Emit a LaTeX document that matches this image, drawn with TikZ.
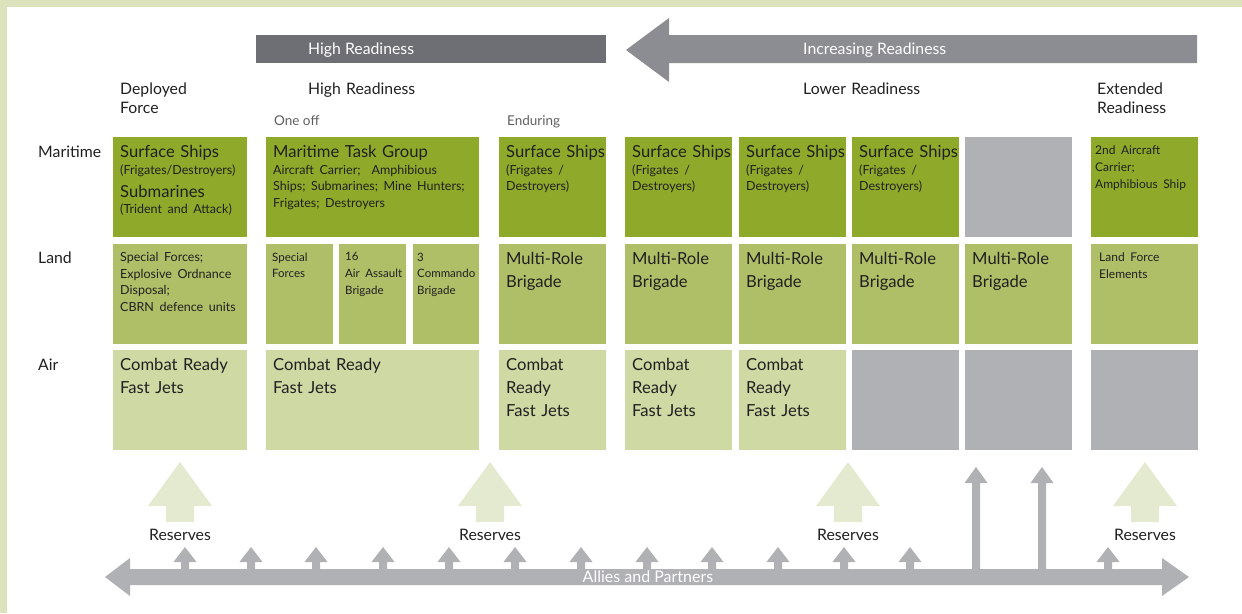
\documentclass[tikz,border=0pt]{standalone}
\usepackage{fontspec}
\setmainfont{Lato}
\usepackage{tikz}
\definecolor{myframe}{RGB}{220,227,188}
\definecolor{mymaritime}{RGB}{143,170,42}
\definecolor{myland}{RGB}{175,191,103}
\definecolor{myair}{RGB}{206,217,164}
\definecolor{mygray}{RGB}{176,177,181}
\definecolor{mybar}{RGB}{110,111,116}
\definecolor{myarrow}{RGB}{140,141,146}
\definecolor{myreserve}{RGB}{228,234,207}
\definecolor{mytext}{RGB}{32,32,32}
\definecolor{mylight}{RGB}{95,95,95}
\newcommand{\bigtxt}{\fontsize{16.6}{22.8}\selectfont}
\newcommand{\subtxt}{\fontsize{12.5}{16.5}\selectfont}
\newcommand{\tinytxt}{\fontsize{11.5}{16.8}\selectfont}
\newcommand{\midtxt}{\fontsize{12}{17}\selectfont}
\newcommand{\headtxt}{\fontsize{15.8}{18.5}\selectfont}
\frenchspacing

\begin{document}
\begin{tikzpicture}[
  x=1pt, y=-1pt,
  mycell/.style={
    rectangle,
    inner sep=0pt,
    anchor=north west,
    minimum height=100pt,
    minimum width=107pt
    },
  mytxt/.style={
    anchor=north west,
    inner xsep=7pt,
    inner ysep=8.5pt,
    text width=200pt,
    align=left,
    font=\bigtxt,
    text=mytext
    },
  myhead/.style={inner sep=0pt, font=\headtxt, text=mytext, text width=120pt, align=left},
  mysub/.style={inner sep=0pt, font=\fontsize{13.5}{16}\selectfont, text=mylight}
]
\useasboundingbox (0,0) rectangle (1242,613);
\fill[myframe] (0,0) rectangle (1242,7);
\fill[myframe] (0,0) rectangle (7,613);

% top bars
\fill[mybar] (256,35) rectangle (606,63);
\fill[myarrow] (626,50) -- (669,18) -- (669,35) -- (1197,35) -- (1197,63) -- (669,63) -- (669,82) -- cycle;
\node[anchor=base west, inner sep=0pt, font=\headtxt, text=white] (hrbar) at (308,54.5) {High Readiness};
\node[anchor=base west, inner sep=0pt, font=\headtxt, text=white] (incbar) at (803,54.5) {Increasing Readiness};

% column headings
\node[myhead, anchor=north west] (deployed) at (120,83) {Deployed\par Force};
\node[myhead, anchor=north west] (highr) at (308,83) {High Readiness};
\node[myhead, anchor=north west] (lowr) at (803,83) {Lower Readiness};
\node[myhead, anchor=north west] (extr) at (1097,83) {Extended\par Readiness};
\node[mysub, anchor=north west] (oneoff) at (274,115) {One off};
\node[mysub, anchor=north west] (enduring) at (507,115) {Enduring};

% row headings
\node[myhead, anchor=base west, text width=] (maritime) at (38,157.5) {Maritime};
\node[myhead, anchor=base west, text width=] (land) at (38,263.5) {Land};
\node[myhead, anchor=base west, text width=] (air) at (38,370) {Air};

% maritime row
\node[mycell, fill=mymaritime, minimum width=134pt] (m1) at (113,137) {};
\node[mytxt] (m1t) at (m1.north west) {Surface Ships\par{\subtxt (Frigates/Destroyers)\par}Submarines\par{\subtxt (Trident and Attack)\par}};
\node[mycell, fill=mymaritime, minimum width=213pt] (m2) at (266,137) {};
\node[mytxt] (m2t) at (m2.north west) {Maritime Task Group\par{\subtxt Aircraft Carrier;\ \ Amphibious\par Ships; Submarines; Mine Hunters;\par Frigates; Destroyers\par}};
\node[mycell, fill=mymaritime] (m3) at (499,137) {};
\node[mytxt] (m3t) at (m3.north west) {Surface Ships\par{\subtxt (Frigates /\par Destroyers)\par}};
\node[mycell, fill=mymaritime] (m4) at (625,137) {};
\node[mytxt] (m4t) at (m4.north west) {Surface Ships\par{\subtxt (Frigates /\par Destroyers)\par}};
\node[mycell, fill=mymaritime] (m5) at (739,137) {};
\node[mytxt] (m5t) at (m5.north west) {Surface Ships\par{\subtxt (Frigates /\par Destroyers)\par}};
\node[mycell, fill=mymaritime] (m6) at (852,137) {};
\node[mytxt] (m6t) at (m6.north west) {Surface Ships\par{\subtxt (Frigates /\par Destroyers)\par}};
\node[mycell, fill=mygray] (m7) at (965,137) {};
\node[mycell, fill=mymaritime] (m8) at (1091,137) {};
\node[mytxt, inner xsep=4pt] (m8t) at (m8.north west) {{\midtxt 2nd Aircraft\par Carrier;\par Amphibious Ship\par}};

% land row
\node[mycell, fill=myland, minimum width=134pt] (l1) at (113,244) {};
\node[mytxt] (l1t) at (l1.north west) {{\subtxt Special Forces;\par Explosive Ordnance\par Disposal;\par CBRN defence units\par}};
\node[mycell, fill=myland, minimum width=67pt] (l2a) at (266,244) {};
\node[mytxt, inner xsep=6pt] (l2at) at (l2a.north west) {{\tinytxt Special\par Forces\par}};
\node[mycell, fill=myland, minimum width=67pt] (l2b) at (339,244) {};
\node[mytxt, inner xsep=6pt] (l2bt) at (l2b.north west) {{\tinytxt 16\par Air Assault\par Brigade\par}};
\node[mycell, fill=myland, minimum width=66pt] (l2c) at (413,244) {};
\node[mytxt, inner xsep=4pt] (l2ct) at (l2c.north west) {{\tinytxt 3\par Commando\par Brigade\par}};
\node[mycell, fill=myland] (l3) at (499,244) {};
\node[mytxt] (l3t) at (l3.north west) {Multi-Role\par Brigade};
\node[mycell, fill=myland] (l4) at (625,244) {};
\node[mytxt] (l4t) at (l4.north west) {Multi-Role\par Brigade};
\node[mycell, fill=myland] (l5) at (739,244) {};
\node[mytxt] (l5t) at (l5.north west) {Multi-Role\par Brigade};
\node[mycell, fill=myland] (l6) at (852,244) {};
\node[mytxt] (l6t) at (l6.north west) {Multi-Role\par Brigade};
\node[mycell, fill=myland] (l7) at (965,244) {};
\node[mytxt] (l7t) at (l7.north west) {Multi-Role\par Brigade};
\node[mycell, fill=myland] (l8) at (1091,244) {};
\node[mytxt, inner xsep=8pt] (l8t) at (l8.north west) {{\midtxt Land Force\par Elements\par}};

% air row
\node[mycell, fill=myair, minimum width=134pt] (a1) at (113,350) {};
\node[mytxt] (a1t) at (a1.north west) {Combat Ready\par Fast Jets};
\node[mycell, fill=myair, minimum width=213pt] (a2) at (266,350) {};
\node[mytxt] (a2t) at (a2.north west) {Combat Ready\par Fast Jets};
\node[mycell, fill=myair] (a3) at (499,350) {};
\node[mytxt] (a3t) at (a3.north west) {Combat\par Ready\par Fast Jets};
\node[mycell, fill=myair] (a4) at (625,350) {};
\node[mytxt] (a4t) at (a4.north west) {Combat\par Ready\par Fast Jets};
\node[mycell, fill=myair] (a5) at (739,350) {};
\node[mytxt] (a5t) at (a5.north west) {Combat\par Ready\par Fast Jets};
\node[mycell, fill=mygray] (a6) at (852,350) {};
\node[mycell, fill=mygray] (a7) at (965,350) {};
\node[mycell, fill=mygray] (a8) at (1091,350) {};

% reserves
\foreach \cx in {180,490,848,1145} {
  \fill[myreserve] (\cx,462) -- ++(32,44) -- ++(-18,0) -- ++(0,16) -- ++(-28,0) -- ++(0,-16) -- ++(-18,0) -- cycle;
  \node[anchor=base, inner sep=0pt, font=\headtxt, text=mytext] (res\cx) at (\cx,540) {Reserves};
}

% allies and partners
\fill[mygray] (105,577) -- (130,558) -- (130,569) -- (1162,569) -- (1162,558) -- (1189,577) -- (1162,596) -- (1162,585) -- (130,585) -- (130,596) -- cycle;
\foreach \ax in {185,251,316,383,449,515,581,647,712,778,844,910,1108}
  \fill[mygray] (\ax,547) -- (\ax+11.5,562) -- (\ax+4,562) -- (\ax+4,570) -- (\ax-4,570) -- (\ax-4,562) -- (\ax-11.5,562) -- cycle;
\foreach \ax in {976,1042}
  \fill[mygray] (\ax,467) -- (\ax+11.5,483) -- (\ax+4,483) -- (\ax+4,570) -- (\ax-4,570) -- (\ax-4,483) -- (\ax-11.5,483) -- cycle;
\node[anchor=base, inner sep=0pt, font=\fontsize{16}{18}\selectfont, text=white] (allies) at (648,582) {Allies and Partners};

\end{tikzpicture}
\end{document}
